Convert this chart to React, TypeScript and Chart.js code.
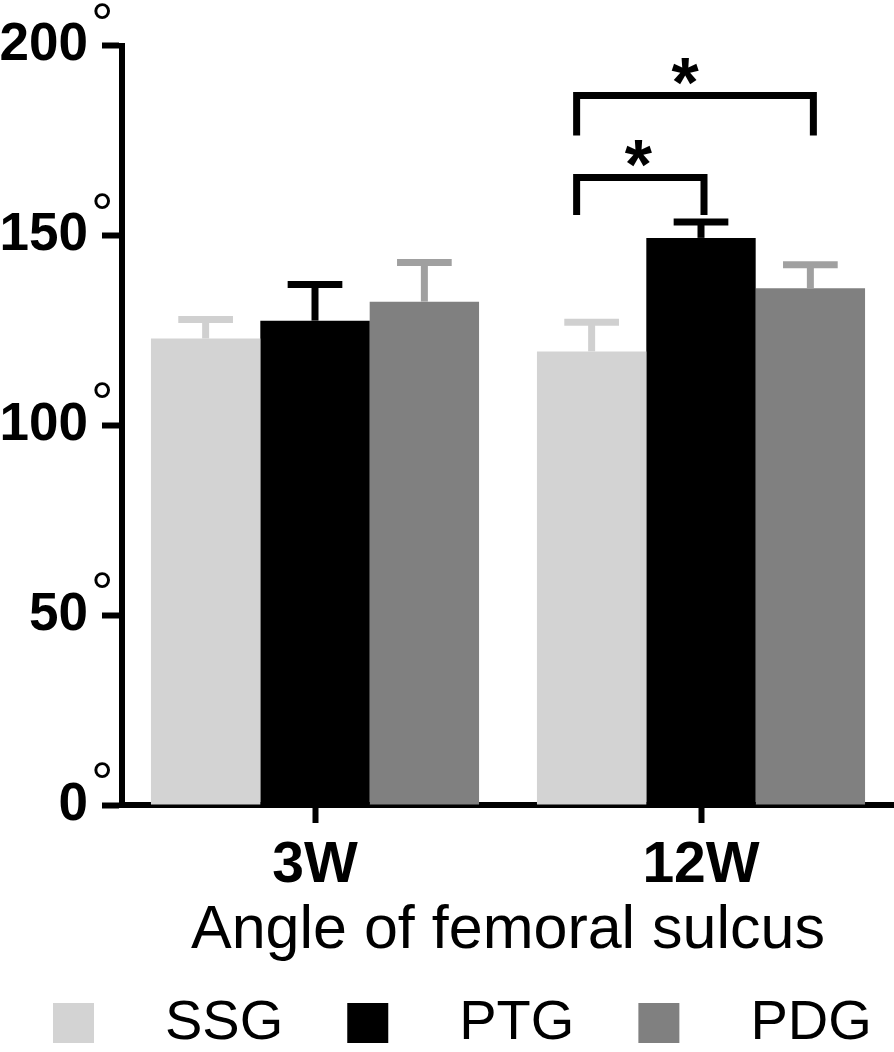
import React, { useEffect, useRef } from "react";
import { Chart, registerables } from "chart.js";

Chart.register(...registerables);

// ---- data ----
const categories = ["3W", "12W"];
const seriesNames = ["SSG", "PTG", "PDG"];
const ssgMeans = [122.9, 119.5];
const ptgMeans = [127.6, 149.4];
const pdgMeans = [132.6, 136.1];
const ssgSD = [5.0, 7.7];
const ptgSD = [9.5, 4.2];
const pdgSD = [10.3, 6.2];
const yTicks = [0, 50, 100, 150, 200];
const axisTitle = "Angle of femoral sulcus";
// significance brackets: category index, from series, to series, bar height, leg end, label
const bracketCategory = [1, 1];
const bracketFrom = [0, 0];
const bracketTo = [1, 2];
const bracketTop = [165.3, 186.9];
const bracketLegEnd = [155.4, 176.4];
const bracketLabel = ["*", "*"];

// ---- styles ----
const barColors = ["#d3d3d3", "#000000", "#808080"];
const errColors = ["#d0d0d0", "#000000", "#a0a0a0"];
const bracketLabelDx = [-2, -10];
const FONT = "'Liberation Sans', Arial, Helvetica, sans-serif";

const meansAll = [ssgMeans, ptgMeans, pdgMeans];
const sdAll = [ssgSD, ptgSD, pdgSD];

const errorBarPlugin = {
  id: "errorBars",
  afterDatasetsDraw(chart: any) {
    const ctx = chart.ctx;
    const y = chart.scales.y;
    ctx.save();
    chart.data.datasets.forEach((ds: any, i: number) => {
      const meta = chart.getDatasetMeta(i);
      meta.data.forEach((bar: any, j: number) => {
        const top = y.getPixelForValue(meansAll[i][j] + sdAll[i][j]);
        const capW = bar.width * 0.5;
        ctx.strokeStyle = errColors[i];
        ctx.lineWidth = 7;
        ctx.lineCap = "butt";
        ctx.beginPath();
        ctx.moveTo(bar.x, bar.y);
        ctx.lineTo(bar.x, top);
        ctx.stroke();
        ctx.beginPath();
        ctx.moveTo(bar.x - capW / 2, top);
        ctx.lineTo(bar.x + capW / 2, top);
        ctx.stroke();
      });
    });
    ctx.restore();
  },
};

const bracketPlugin = {
  id: "brackets",
  afterDraw(chart: any) {
    const ctx = chart.ctx;
    const y = chart.scales.y;
    ctx.save();
    bracketCategory.forEach((c, k) => {
      const b1 = chart.getDatasetMeta(bracketFrom[k]).data[c];
      const b2 = chart.getDatasetMeta(bracketTo[k]).data[c];
      const xL = b1.x - 15;
      const xR = b2.x + 3;
      const yT = y.getPixelForValue(bracketTop[k]);
      const yL = y.getPixelForValue(bracketLegEnd[k]);
      ctx.strokeStyle = "#000";
      ctx.lineWidth = 7;
      ctx.lineJoin = "miter";
      ctx.lineCap = "butt";
      ctx.beginPath();
      ctx.moveTo(xL, yL);
      ctx.lineTo(xL, yT);
      ctx.lineTo(xR, yT);
      ctx.lineTo(xR, yL);
      ctx.stroke();
      ctx.fillStyle = "#000";
      ctx.font = `bold 70px ${FONT}`;
      ctx.textAlign = "center";
      ctx.textBaseline = "alphabetic";
      ctx.fillText(bracketLabel[k], (xL + xR) / 2 + bracketLabelDx[k], yT + 11.5);
    });
    ctx.restore();
  },
};

const degreePlugin = {
  id: "degrees",
  afterDraw(chart: any) {
    const ctx = chart.ctx;
    const y = chart.scales.y;
    ctx.save();
    ctx.fillStyle = "#000";
    ctx.font = `56px ${FONT}`;
    ctx.textAlign = "left";
    ctx.textBaseline = "alphabetic";
    const xRight = y.right - 20 - 14;
    y.ticks.forEach((t: any) => {
      const py = y.getPixelForValue(t.value);
      ctx.fillText("°", xRight + 3, py - 4);
    });
    ctx.restore();
  },
};

const legendPlugin = {
  id: "seriesLegend",
  afterDraw(chart: any) {
    const ctx = chart.ctx;
    const cy = chart.height - 29;
    ctx.save();
    ctx.font = `56px ${FONT}`;
    ctx.textBaseline = "middle";
    ctx.textAlign = "left";
    let x = 53;
    seriesNames.forEach((n, i) => {
      ctx.fillStyle = barColors[i];
      ctx.fillRect(x, cy - 20, 41, 40);
      ctx.fillStyle = "#000";
      ctx.fillText(n, x + 112, cy + 1);
      x += 112 + ctx.measureText(n).width + 64;
    });
    ctx.restore();
  },
};

export default function App() {
  const ref = useRef<HTMLCanvasElement>(null);
  useEffect(() => {
    document.body.style.margin = "0";
    const canvas = ref.current!;
    const chart = new Chart(canvas, {
      type: "bar",
      data: {
        labels: categories,
        datasets: seriesNames.map((name, i) => ({
          label: name,
          data: meansAll[i],
          backgroundColor: barColors[i],
          borderWidth: 0,
          categoryPercentage: 0.85,
          barPercentage: 1.0,
        })),
      },
      options: {
        animation: false,
        responsive: true,
        maintainAspectRatio: false,
        layout: { padding: { top: 14, left: 0, right: 0, bottom: 0 } },
        plugins: {
          tooltip: { enabled: false },
          legend: { display: false },
        },
        scales: {
          x: {
            afterFit: (scale: any) => {
              scale.height = 247;
            },
            grid: {
              display: true,
              drawOnChartArea: false,
              drawTicks: true,
              tickLength: 18,
              tickWidth: 6,
              tickColor: "#000",
              offset: false,
            },
            border: { display: true, color: "#000", width: 6 },
            ticks: {
              color: "#000",
              font: { family: FONT, size: 57, weight: "bold" },
              padding: 9,
            },
            title: {
              display: true,
              text: axisTitle,
              color: "#000",
              font: { family: FONT, size: 61, lineHeight: 1.0 },
              padding: { top: 0, bottom: 90 },
            },
          },
          y: {
            min: 0,
            max: 200,
            afterFit: (scale: any) => {
              scale.width = 122;
            },
            afterBuildTicks: (scale: any) => {
              scale.ticks = yTicks.map((v) => ({ value: v }));
            },
            grid: {
              display: true,
              drawOnChartArea: false,
              tickLength: 20,
              tickWidth: 6,
              tickColor: "#000",
            },
            border: { display: true, color: "#000", width: 6 },
            ticks: {
              color: "#000",
              font: { family: FONT, size: 53, weight: "bold" },
              padding: 14,
              callback: (v: any) => String(v),
            },
          },
        },
      },
      plugins: [errorBarPlugin, bracketPlugin, degreePlugin, legendPlugin],
    } as any);
    return () => chart.destroy();
  }, []);
  return (
    <div style={{ width: 894, height: 1052, position: "relative" }}>
      <canvas ref={ref} />
    </div>
  );
}
